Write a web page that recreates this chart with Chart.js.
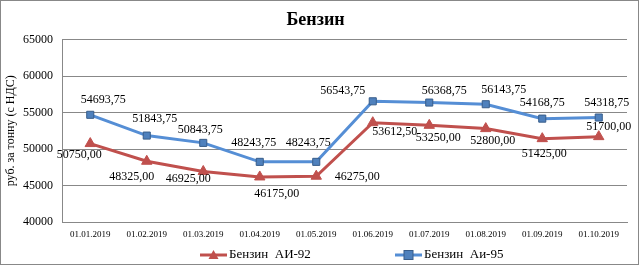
<!DOCTYPE html>
<html>
<head>
<meta charset="utf-8">
<script src="https://cdn.jsdelivr.net/npm/chart.js@4/dist/chart.umd.min.js"></script>
<style>
  html, body { margin: 0; padding: 0; background: #fff; }
  #wrap { width: 639px; height: 265px; position: relative; }
</style>
</head>
<body>
<div id="wrap"><canvas id="chart" width="639" height="265"></canvas></div>
<script>
// Chart data
const categories = ['01.01.2019', '01.02.2019', '01.03.2019', '01.04.2019', '01.05.2019',
    '01.06.2019', '01.07.2019', '01.08.2019', '01.09.2019', '01.10.2019'];
const ai92 = [50750.00, 48325.00, 46925.00, 46175.00, 46275.00, 53612.50, 53250.00, 52800.00, 51425.00, 51700.00];
const ai95 = [54693.75, 51843.75, 50843.75, 48243.75, 48243.75, 56543.75, 56368.75, 56143.75, 54168.75, 54318.75];
const yTicks = [40000, 45000, 50000, 55000, 60000, 65000];

const SERIF = '"Liberation Serif", "Times New Roman", serif';
const RED = '#C0504D';
const BLUE = '#4F81BD';

// Label offsets (px) from each point, like Excel placed them
const labelOffsets = {
    0: { dx: [-11, -15, -15, 17, 41, 22, 9, 7, 2, 10], dy: [11, 16, 7, 17, 1, 9, 13, 12, 15, -10] },
    1: { dx: [13, 8, -3, -6, -8, -30, 15, 18, 0, 8], dy: [-15, -17, -13, -19, -19, -10, -12, -14, -16, -15] }
};

// Format like "54693,75"
function formatValue(v) {
    return v.toFixed(2).replace('.', ',');
}

// Border around the whole chart
const borderPlugin = {
    id: 'border',
    afterDraw(chart) {
        const ctx = chart.ctx;
        ctx.save();
        ctx.strokeStyle = '#888';
        ctx.lineWidth = 1;
        ctx.strokeRect(0.5, 0.5, chart.width - 1, chart.height - 1);
        ctx.restore();
    }
};

// Data labels
const labelPlugin = {
    id: 'valueLabels',
    afterDatasetsDraw(chart) {
        const ctx = chart.ctx;
        ctx.save();
        ctx.font = '12px ' + SERIF;
        ctx.fillStyle = '#000';
        ctx.textAlign = 'center';
        ctx.textBaseline = 'middle';
        chart.data.datasets.forEach((ds, di) => {
            const meta = chart.getDatasetMeta(di);
            meta.data.forEach((pt, i) => {
                const off = labelOffsets[di];
                ctx.fillText(formatValue(ds.data[i]), pt.x + off.dx[i], pt.y + off.dy[i]);
            });
        });
        ctx.restore();
    }
};

// Legend with line + marker, Excel style
const legendPlugin = {
    id: 'lineLegend',
    afterDraw(chart) {
        const ctx = chart.ctx;
        const y = 255;
        const items = [
            { x: 200, text: 'Бензин  АИ-92', color: RED, marker: 'triangle' },
            { x: 395, text: 'Бензин  Аи-95', color: '#558ED5', marker: 'rect' }
        ];
        ctx.save();
        items.forEach(item => {
            ctx.strokeStyle = item.color;
            ctx.lineWidth = 3;
            ctx.beginPath();
            ctx.moveTo(item.x, y);
            ctx.lineTo(item.x + 27, y);
            ctx.stroke();
            const mx = item.x + 13.5;
            ctx.lineWidth = 1;
            if (item.marker === 'rect') {
                ctx.fillStyle = BLUE;
                ctx.strokeStyle = '#385D8A';
                ctx.fillRect(mx - 4.5, y - 4.5, 9, 9);
                ctx.strokeRect(mx - 4.5, y - 4.5, 9, 9);
            } else {
                ctx.fillStyle = RED;
                ctx.beginPath();
                ctx.moveTo(mx, y - 5);
                ctx.lineTo(mx + 5, y + 4);
                ctx.lineTo(mx - 5, y + 4);
                ctx.closePath();
                ctx.fill();
            }
            ctx.fillStyle = '#000';
            ctx.font = '13px ' + SERIF;
            ctx.textAlign = 'left';
            ctx.textBaseline = 'middle';
            ctx.fillText(item.text, item.x + 29, y);
        });
        ctx.restore();
    }
};

new Chart(document.getElementById('chart'), {
    type: 'line',
    data: {
        labels: categories,
        datasets: [
            {
                label: 'Бензин  АИ-92',
                data: ai92,
                borderColor: RED,
                backgroundColor: RED,
                borderWidth: 3,
                pointStyle: 'triangle',
                pointRadius: 6,
                pointBackgroundColor: RED,
                pointBorderColor: RED,
                pointBorderWidth: 1,
                tension: 0
            },
            {
                label: 'Бензин  Аи-95',
                data: ai95,
                borderColor: '#558ED5',
                backgroundColor: BLUE,
                borderWidth: 3,
                pointStyle: 'rect',
                pointRadius: 5,
                pointBackgroundColor: BLUE,
                pointBorderColor: '#385D8A',
                pointBorderWidth: 1,
                tension: 0
            }
        ]
    },
    options: {
        responsive: false,
        animation: false,
        layout: { padding: { left: 4, right: 12, top: 0, bottom: 0 } },
        plugins: {
            legend: { display: false },
            tooltip: { enabled: false },
            title: {
                display: true,
                text: 'Бензин',
                color: '#000',
                font: { family: SERIF, size: 18, weight: 'bold' },
                padding: { top: 10, bottom: 8 }
            }
        },
        scales: {
            x: {
                offset: true,
                grid: { display: false, drawTicks: false },
                border: { display: true, color: '#888' },
                ticks: {
                    color: '#000',
                    font: { family: SERIF, size: 9 },
                    maxRotation: 0,
                    autoSkip: false,
                    padding: 7
                },
                afterFit(scale) { scale.height = 43; }
            },
            y: {
                min: 40000,
                max: 65000,
                afterBuildTicks(scale) { scale.ticks = yTicks.map(v => ({ value: v })); },
                grid: { color: '#888', drawTicks: false },
                border: { display: true, color: '#888' },
                ticks: {
                    color: '#000',
                    font: { family: SERIF, size: 12 },
                    padding: 9,
                    callback: v => String(v)
                },
                title: {
                    display: true,
                    text: 'руб. за тонну (с НДС)',
                    color: '#000',
                    font: { family: SERIF, size: 12 },
                    padding: 0
                },
                afterFit(scale) { scale.width = 58; }
            }
        }
    },
    plugins: [borderPlugin, labelPlugin, legendPlugin]
});
</script>
</body>
</html>
